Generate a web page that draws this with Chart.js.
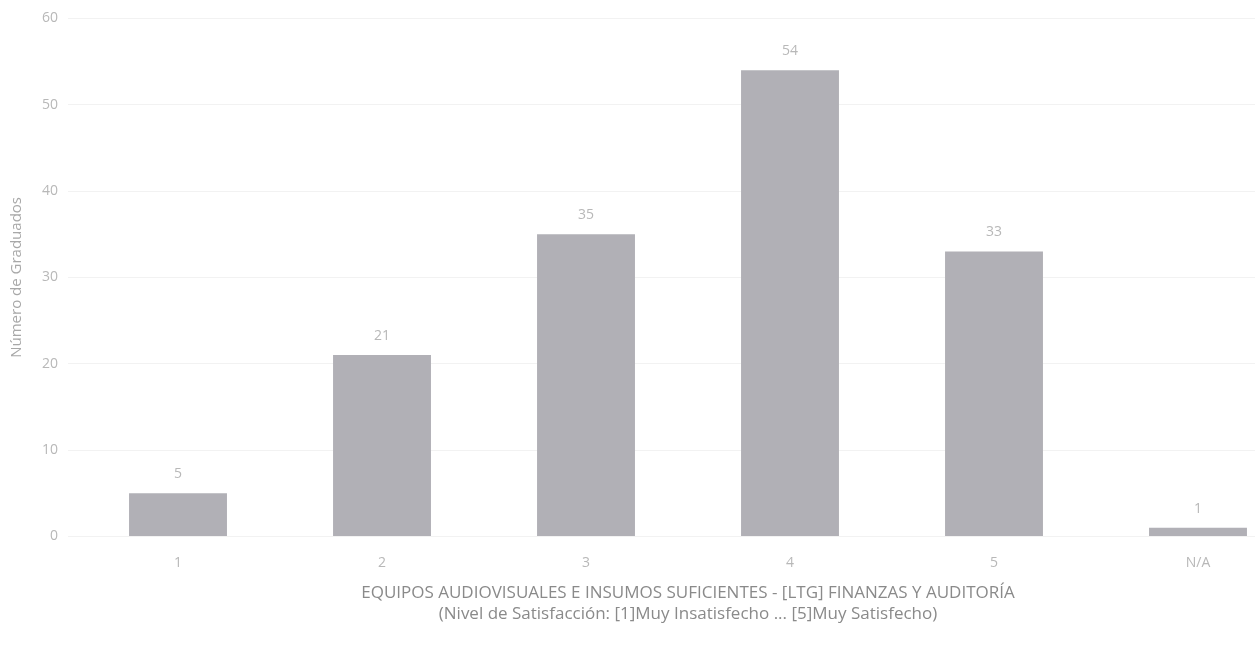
<!DOCTYPE html>
<html lang="es">
<head>
<meta charset="utf-8">
<title>Equipos audiovisuales e insumos suficientes</title>
<script src="https://cdn.jsdelivr.net/npm/chart.js@4/dist/chart.umd.min.js"></script>
<style>
  html, body { margin: 0; padding: 0; background: #fff; overflow: hidden; }
  #wrap { position: relative; width: 1306px; height: 648px; }
</style>
</head>
<body>
<div id="wrap"><canvas id="chart"></canvas></div>
<script>
// === DATA ===
const CATEGORIES = ['1', '2', '3', '4', '5', 'N/A'];
const GRADUADOS  = [5, 21, 35, 54, 33, 1];
const Y_TICKS    = [0, 10, 20, 30, 40, 50, 60];

const FONT_FAMILY = "'Open Sans', sans-serif";
const BAR_COLOR   = '#b1b0b6';
const TEXT_LIGHT  = '#b8b8b8';

// value labels above each bar
const valueLabels = {
  id: 'valueLabels',
  afterDatasetsDraw(chart) {
    const ctx = chart.ctx;
    const meta = chart.getDatasetMeta(0);
    ctx.save();
    ctx.font = '14px ' + FONT_FAMILY;
    ctx.fillStyle = TEXT_LIGHT;
    ctx.textAlign = 'center';
    ctx.textBaseline = 'bottom';
    meta.data.forEach(function (bar, i) {
      ctx.fillText(String(GRADUADOS[i]), bar.x, bar.y - 12);
    });
    ctx.restore();
  }
};

new Chart(document.getElementById('chart'), {
  type: 'bar',
  data: {
    labels: CATEGORIES,
    datasets: [{
      label: 'Número de Graduados',
      data: GRADUADOS,
      backgroundColor: BAR_COLOR,
      borderWidth: 0,
      barPercentage: 0.48,
      categoryPercentage: 1
    }]
  },
  options: {
    responsive: true,
    maintainAspectRatio: false,
    animation: false,
    layout: { padding: { top: 14, right: 6, bottom: 20, left: 4 } },
    plugins: {
      legend: { display: false },
      tooltip: { enabled: false }
    },
    scales: {
      x: {
        grid: { display: false },
        border: { display: false },
        ticks: { color: TEXT_LIGHT, font: { family: FONT_FAMILY, size: 14 }, padding: 10 },
        title: {
          display: true,
          text: [
            'EQUIPOS AUDIOVISUALES E INSUMOS SUFICIENTES - [LTG] FINANZAS Y AUDITORÍA',
            '(Nivel de Satisfacción: [1]Muy Insatisfecho ... [5]Muy Satisfecho)'
          ],
          color: '#8a8a8a',
          font: { family: FONT_FAMILY, size: 17 },
          padding: { top: 2 }
        }
      },
      y: {
        min: 0,
        max: 60,
        afterBuildTicks(axis) { axis.ticks = Y_TICKS.map(function (v) { return { value: v }; }); },
        grid: { color: '#f2f2f2', lineWidth: 1 },
        border: { display: false },
        ticks: { color: TEXT_LIGHT, font: { family: FONT_FAMILY, size: 14 }, padding: 10 },
        title: {
          display: true,
          text: 'Número de Graduados',
          color: '#a8a8a8',
          font: { family: FONT_FAMILY, size: 15 },
          padding: { bottom: 6 }
        }
      }
    }
  },
  plugins: [valueLabels]
});
</script>
</body>
</html>
